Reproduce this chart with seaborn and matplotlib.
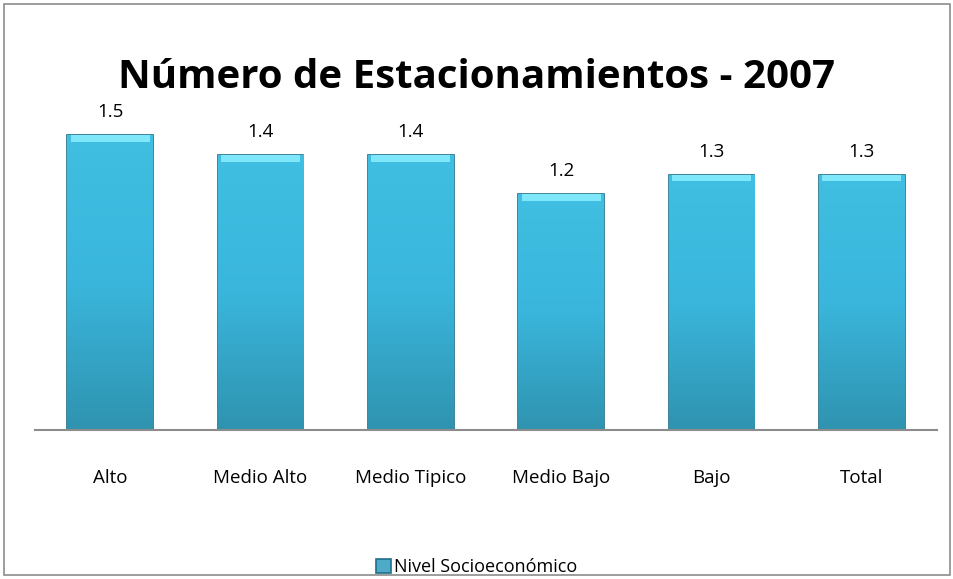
import numpy as np
import pandas as pd
import matplotlib
matplotlib.use("Agg")
import matplotlib.pyplot as plt
import seaborn as sns
from matplotlib.patches import Rectangle

# Datos
niveles = ["Alto", "Medio Alto", "Medio Tipico", "Medio Bajo", "Bajo", "Total"]
estacionamientos = [1.5, 1.4, 1.4, 1.2, 1.3, 1.3]
serie = "Nivel Socioeconómico"

df = pd.DataFrame({"nivel": niveles, "valor": estacionamientos, "serie": serie})

sns.set_style("white")
plt.rcParams["font.family"] = ["Open Sans", "DejaVu Sans"]
plt.rcParams["text.color"] = "black"
plt.rcParams["xtick.color"] = "black"

fig = plt.figure(figsize=(9.54, 5.79), dpi=100)
ax = fig.add_axes([35 / 954, 1 - 430 / 579, 902 / 954, 334 / 579])

sns.barplot(data=df, x="nivel", y="valor", hue="serie", palette=["#3ab6dc"],
            width=0.57, edgecolor="#1f6f8a", linewidth=1.2, ax=ax, legend=True)

# degradado vertical en cada barra
grad = np.linspace(0, 1, 256).reshape(-1, 1)
cmap = matplotlib.colors.LinearSegmentedColormap.from_list(
    "barra", ["#2f93b0", "#3ab6dc", "#40bfe2"])
for p in ax.patches:
    if p.get_height() <= 0:
        continue
    x0, w, h = p.get_x(), p.get_width(), p.get_height()
    im = ax.imshow(grad, extent=[x0, x0 + w, 0, h], aspect="auto",
                   cmap=cmap, origin="lower", zorder=p.get_zorder())
    im.set_clip_path(p)
    # brillo superior
    ax.add_patch(Rectangle((x0 + w * 0.04, h - 0.035), w * 0.92, 0.035,
                           facecolor="#7ee8fa", edgecolor="none", zorder=p.get_zorder() + 0.5))

for c in ax.containers:
    ax.bar_label(c, fmt="%.1f", padding=10, fontsize=13.5, color="black")

ax.set_ylim(0, 1.7)
ax.set_xlim(-0.5, 5.5)
ax.set_xlabel("")
ax.set_ylabel("")
ax.set_yticks([])
ax.tick_params(axis="x", labelsize=13.5, pad=28, length=0, labelcolor="black")
for s in ["top", "right", "left"]:
    ax.spines[s].set_visible(False)
ax.spines["bottom"].set_color("#8c8c8c")
ax.spines["bottom"].set_linewidth(1.5)

fig.suptitle("Número de Estacionamientos - 2007", fontsize=29, fontweight="bold",
             y=1 - 77 / 579, va="center", color="black")

leg = ax.legend(loc="center", bbox_to_anchor=(0.5, 1 - 567 / 579), bbox_transform=fig.transFigure,
                frameon=False, fontsize=13, handlelength=0.8, handleheight=0.8, handletextpad=0.2)
for t in leg.get_texts():
    t.set_color("black")

# borde del gráfico
fig.add_artist(Rectangle((4 / 954, 4 / 579), 946 / 954, 571 / 579, transform=fig.transFigure,
                         fill=False, edgecolor="#8c8c8c", linewidth=1.2))

fig.savefig("out.png", dpi=100)
